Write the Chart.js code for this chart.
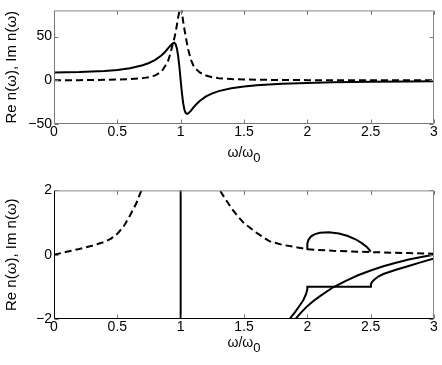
<!DOCTYPE html>
<html>
<head>
<meta charset="utf-8">
<script src="https://cdn.jsdelivr.net/npm/chart.js@4.4.1/dist/chart.umd.min.js"></script>
<style>
  body { margin: 0; background: #fff; }
  #wrap { position: relative; width: 442px; height: 365px; }
  canvas { position: absolute; left: 0; }
  .xt { position: absolute; left: 0; width: 488px; text-align: center;
        font: 14px "Liberation Sans", Arial, sans-serif; line-height: 14px; color: #000; }
  .xt sub { font-size: 13px; vertical-align: -5px; line-height: 0; }
</style>
</head>
<body>
<div id="wrap">
  <canvas id="topChart" width="442" height="180" style="top:0"></canvas>
  <canvas id="bottomChart" width="442" height="185" style="top:180px"></canvas>
  <div class="xt" style="top:145px">ω/ω<sub>0</sub></div>
  <div class="xt" style="top:335px">ω/ω<sub>0</sub></div>
</div>
<script>
// tick labels
const xTicks = [0, 0.5, 1, 1.5, 2, 2.5, 3];
const yTicksTop = [-50, 0, 50];
const yTicksBottom = [-2, 0, 2];

// upper panel: Re n (solid) and Im n (dashed)
const topOmega = [0, 0.2, 0.4, 0.5, 0.6, 0.7, 0.75, 0.8, 0.85, 0.88, 0.9, 0.92, 0.94, 0.95, 0.96, 0.97, 0.98, 0.99, 1.0,
  1.01, 1.02, 1.03, 1.04, 1.05, 1.06, 1.08, 1.1, 1.12, 1.15, 1.2, 1.25, 1.3, 1.4, 1.5, 1.6, 1.8, 2.0, 2.2, 2.5, 2.8, 3.0];
const topRe = [9, 9.4, 10.7, 11.9, 13.9, 17.2, 19.8, 23.4, 28.6, 33, 36.5, 40, 42.6, 43, 41.3, 36.6, 28, 15.3, 0,
  -14.8, -26.5, -33.8, -37.4, -38.4, -37.9, -35, -31.3, -27.9, -23.6, -18.5, -15, -12.4, -9.1, -7.1, -5.7, -4, -3, -2.3, -1.7, -1.3, -1.1];
const topIm = [0, 0.2, 0.55, 0.85, 1.4, 2.5, 3.6, 5.6, 10, 17, 22, 31, 43, 48, 55, 63, 72, 79, 84,
  78, 67, 58, 50, 42, 35, 24, 17, 13, 9, 5.5, 3.5, 2.4, 1.4, 0.9, 0.6, 0.35, 0.2, 0.14, 0.09, 0.06, 0.04];

// lower panel
const dashLeftOmega = [0, 0.1, 0.2, 0.3, 0.4, 0.45, 0.5, 0.55, 0.6, 0.65, 0.7, 0.72];
const dashLeftIm = [0, 0.09, 0.18, 0.28, 0.4, 0.5, 0.65, 0.88, 1.22, 1.6, 2.1, 2.3];
const dashRightOmega = [1.28, 1.31, 1.35, 1.4, 1.45, 1.5, 1.6, 1.7, 1.8, 1.9, 2.0, 2.2, 2.5, 2.8, 3.0];
const dashRightIm = [2.3, 2.0, 1.75, 1.45, 1.2, 0.98, 0.68, 0.42, 0.31, 0.24, 0.17, 0.12, 0.08, 0.05, 0.03];
const poleOmega = [1, 1];
const poleRe = [-3, 3];
const loopOmega = [2.0, 2.0, 2.01, 2.03, 2.06, 2.1, 2.17, 2.25, 2.32, 2.38, 2.43, 2.47, 2.49, 2.5];
const loopRe = [0.15, 0.35, 0.47, 0.57, 0.64, 0.68, 0.7, 0.66, 0.58, 0.48, 0.36, 0.24, 0.15, 0.09];
const branchAOmega = [1.85, 1.9, 1.94, 1.97, 1.99, 2.0, 2.0, 2.5, 2.502, 2.51, 2.53, 2.56, 2.6, 2.7, 2.8, 2.9, 3.0];
const branchARe = [-2.05, -1.8, -1.58, -1.4, -1.22, -1.08, -1.0, -1.0, -0.92, -0.85, -0.77, -0.68, -0.6, -0.47, -0.35, -0.23, -0.12];
const branchBOmega = [1.9, 1.95, 2.0, 2.05, 2.1, 2.2, 2.3, 2.4, 2.5, 2.6, 2.7, 2.8, 2.9, 3.0];
const branchBRe = [-2.03, -1.8, -1.6, -1.43, -1.29, -1.02, -0.82, -0.64, -0.49, -0.36, -0.25, -0.15, -0.07, 0.0];

Chart.defaults.font.family = '"Liberation Sans", Arial, sans-serif';
Chart.defaults.font.size = 14;
Chart.defaults.color = '#000';

function pts(xs, ys) {
    return xs.map((x, i) => ({ x: x, y: ys[i] }));
}

function line(xs, ys, dashed) {
    return {
        data: pts(xs, ys),
        showLine: true,
        borderColor: '#000',
        borderWidth: 2,
        borderDash: dashed ? [7, 4] : [],
        pointRadius: 0,
        tension: 0,
        clip: 0
    };
}

// MATLAB-like box with inward ticks
const framePlugin = {
    id: 'frame',
    afterDatasetsDraw(chart, args, opts) {
        const { ctx, chartArea: a, scales } = chart;
        const L = a.left + 0.5, R = a.right - 0.5, T = a.top + 0.5, B = a.bottom - 0.5;
        ctx.save();
        ctx.lineWidth = 1;
        ctx.strokeStyle = opts.tickColor;
        ctx.beginPath();
        scales.x.ticks.forEach(t => {
            const px = Math.round(scales.x.getPixelForValue(t.value)) + 0.5;
            ctx.moveTo(px, B); ctx.lineTo(px, B - 4);
            ctx.moveTo(px, T); ctx.lineTo(px, T + 4);
        });
        scales.y.ticks.forEach(t => {
            const py = Math.round(scales.y.getPixelForValue(t.value)) + 0.5;
            ctx.moveTo(L, py); ctx.lineTo(L + 4, py);
            ctx.moveTo(R, py); ctx.lineTo(R - 4, py);
        });
        ctx.stroke();
        ctx.strokeStyle = opts.farColor;
        ctx.beginPath();
        ctx.moveTo(L, T); ctx.lineTo(R, T); ctx.lineTo(R, B);
        ctx.stroke();
        ctx.strokeStyle = opts.nearColor;
        ctx.beginPath();
        ctx.moveTo(L, T); ctx.lineTo(L, B); ctx.lineTo(R, B);
        ctx.stroke();
        ctx.restore();
    }
};

function makeChart(id, datasets, yMin, yMax, yTicks, pad, xHeight, colors) {
    return new Chart(document.getElementById(id), {
        type: 'scatter',
        data: { datasets: datasets },
        plugins: [framePlugin],
        options: {
            responsive: false,
            animation: false,
            layout: { padding: { top: pad.top, right: pad.right, left: 0, bottom: 0 } },
            plugins: {
                legend: { display: false },
                tooltip: { enabled: false },
                frame: colors
            },
            scales: {
                x: {
                    type: 'linear', min: 0, max: 3,
                    afterBuildTicks: s => { s.ticks = xTicks.map(v => ({ value: v })); },
                    ticks: { padding: 0, maxRotation: 0, autoSkip: false, callback: v => String(v) },
                    grid: { display: false, drawTicks: false },
                    border: { display: false },
                    afterFit: s => { s.height = xHeight; }
                },
                y: {
                    type: 'linear', min: yMin, max: yMax,
                    afterBuildTicks: s => { s.ticks = yTicks.map(v => ({ value: v })); },
                    ticks: { padding: 2, callback: v => String(v).replace('-', '\u2212') },
                    grid: { display: false, drawTicks: false },
                    border: { display: false },
                    title: { display: true, text: 'Re n(ω), Im n(ω)', font: { size: 15 }, padding: { top: 3, bottom: 0 } },
                    afterFit: s => { s.width = 54; }
                }
            }
        }
    });
}

makeChart('topChart', [
    line(topOmega, topRe, false),
    line(topOmega, topIm, true)
], -50, 80, yTicksTop, { top: 3, right: 8 }, 56, { tickColor: '#777', farColor: '#888', nearColor: '#777' });

makeChart('bottomChart', [
    line(dashLeftOmega, dashLeftIm, true),
    line(dashRightOmega, dashRightIm, true),
    line(poleOmega, poleRe, false),
    line(loopOmega, loopRe, false),
    line(branchAOmega, branchARe, false),
    line(branchBOmega, branchBRe, false)
], -2, 2, yTicksBottom, { top: 7, right: 8 }, 46, { tickColor: '#777', farColor: '#888', nearColor: '#000' });
</script>
</body>
</html>
